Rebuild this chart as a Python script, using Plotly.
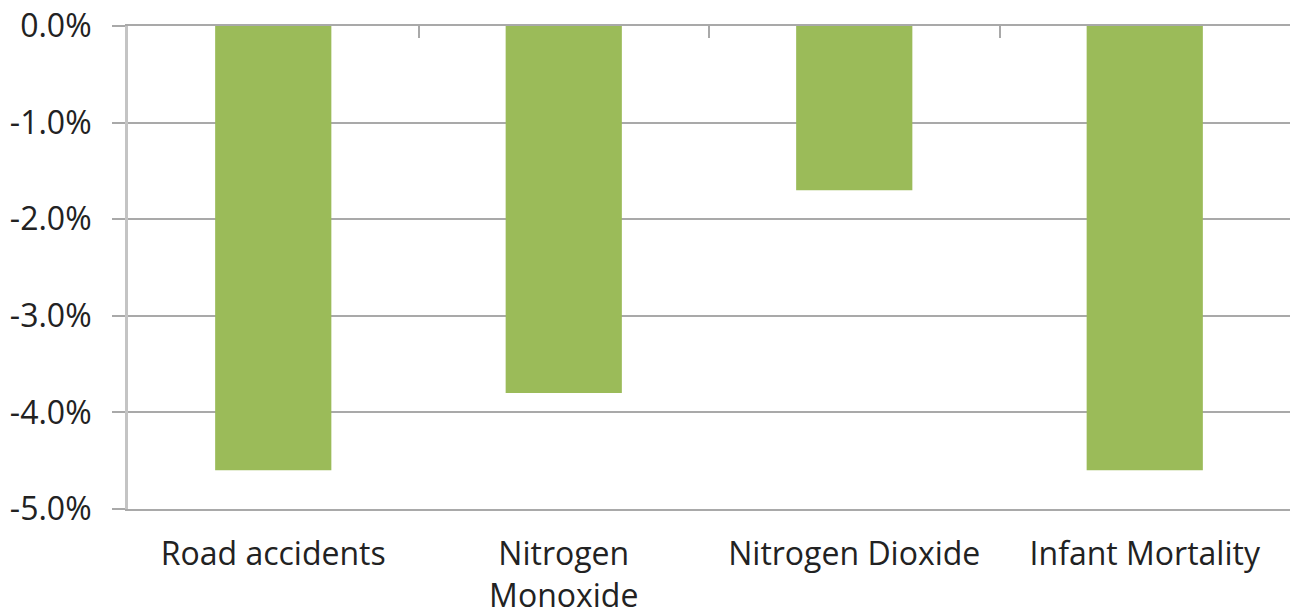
import plotly.graph_objects as go

categories = ["Road accidents", "Nitrogen<br>Monoxide", "Nitrogen Dioxide", "Infant Mortality"]
values = [-4.6, -3.8, -1.7, -4.6]
y_ticks = [0, -1, -2, -3, -4, -5]
y_tick_labels = ["0.0%", "-1.0%", "-2.0%", "-3.0%", "-4.0%", "-5.0%"]

positions = list(range(len(categories)))
boundaries = [p - 0.5 for p in positions] + [positions[-1] + 0.5]

GRID = "#a9a9a9"
FONT = dict(family="Open Sans", size=32, color="#222222")

fig = go.Figure()
fig.add_trace(go.Bar(
    x=positions, y=values,
    marker=dict(color="#9bbb59", line=dict(width=0)),
    width=0.4, showlegend=False, hoverinfo="skip",
))
fig.add_trace(go.Scatter(
    x=[positions[0]], y=[None], xaxis="x2", mode="markers",
    showlegend=False, hoverinfo="skip",
))

fig.update_layout(
    width=1291, height=614,
    margin=dict(l=128, r=1, t=26, b=105, autoexpand=False),
    paper_bgcolor="white", plot_bgcolor="white",
    font=FONT,
    xaxis=dict(
        range=[-0.5, len(categories) - 0.5],
        tickvals=positions, ticktext=categories,
        ticks="", showline=True, linecolor=GRID, linewidth=2,
        showgrid=False, zeroline=False, automargin=False,
        ticklabelstandoff=16, tickfont=FONT,
    ),
    xaxis2=dict(
        overlaying="x", side="top",
        range=[-0.5, len(categories) - 0.5],
        tickvals=boundaries, ticks="inside", ticklen=12, tickwidth=2,
        tickcolor=GRID, showticklabels=False,
        showline=True, linecolor=GRID, linewidth=2,
        showgrid=False, zeroline=False, automargin=False,
    ),
    yaxis=dict(
        range=[-5, 0],
        tickvals=y_ticks, ticktext=y_tick_labels,
        showgrid=True, gridcolor=GRID, gridwidth=2,
        zeroline=False, automargin=False,
        showline=True, linecolor="#c4c4c4", linewidth=3,
        ticks="outside", ticklen=13, tickwidth=2, tickcolor=GRID,
        ticklabelstandoff=14, tickfont=FONT,
    ),
)

fig.write_html(
    "out.html",
    config={"displayModeBar": False},
    post_script="document.body.style.margin='0';document.body.style.overflow='hidden';",
)
